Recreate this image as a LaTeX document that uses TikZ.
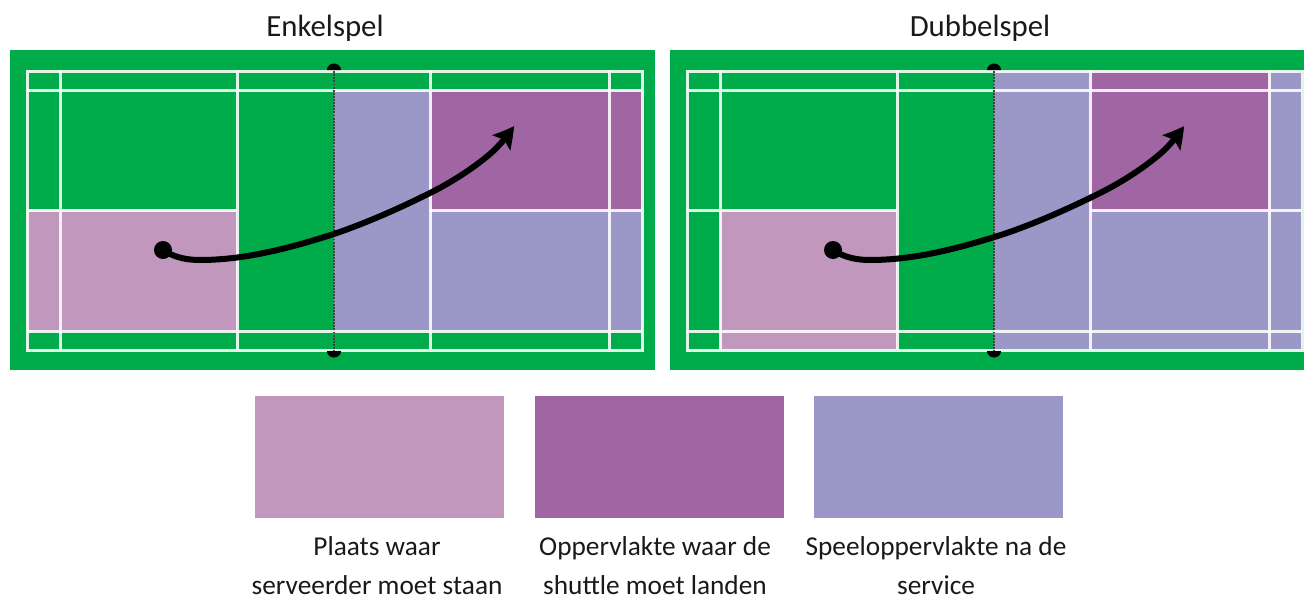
\documentclass[tikz,border=0pt]{standalone}
\usepackage{fontspec}
\setmainfont{Carlito}
\usetikzlibrary{arrows.meta,bending}
\definecolor{courtgreen}{HTML}{00AB4A}
\definecolor{servepink}{HTML}{C197BE}
\definecolor{landpurple}{HTML}{9F66A3}
\definecolor{playblue}{HTML}{9B97C7}
\tikzset{
  x=1pt,y=-1pt,
  courtline/.style={draw=white,line width=3pt,opacity=.88},
  netline/.style={draw=black!75,line width=1.9pt,dash pattern=on 1.9pt off 1.2pt},
  netcap/.style={fill=black,draw=none},
  flight/.style={draw=black,line width=6pt,-{Stealth[length=21pt,width=23pt,inset=4pt,bend]}},
  startdot/.style={circle,fill=black,inner sep=0pt,minimum size=18pt},
  legendbox/.style={inner sep=0pt,minimum width=249pt,minimum height=122pt},
  heading/.style={font=\fontsize{30.8}{36}\selectfont,text=black!90,inner sep=0pt},
  legendtext/.style={font=\fontsize{27.3}{39}\selectfont,align=center,text=black!90,inner sep=0pt}
}
% #1..#7 vertical lines (outer, side, service, net, service, side, outer)
\newcommand{\courtlines}[7]{%
  \draw[courtline] (#1,71) rectangle (#7,350);
  \foreach \yy in {90,331}{\draw[courtline] (#1,\yy) -- (#7,\yy);}
  \draw[courtline] (#1,210) -- (#3,210);
  \draw[courtline] (#5,210) -- (#7,210);
  \foreach \xx in {#2,#3,#5,#6}{\draw[courtline] (\xx,71) -- (\xx,350);}
  \draw[netline] (#4,68) -- (#4,352);
  \fill[netcap] (#4-7,70) arc[start angle=180,end angle=360,x radius=7,y radius=6.5] -- cycle;
  \fill[netcap] (#4-7,351) arc[start angle=180,end angle=0,x radius=7,y radius=6.5] -- cycle;
}
\begin{document}
\begin{tikzpicture}
\useasboundingbox (0,0) rectangle (1304,597);
% headings
\node[heading] (h1) at (325,28) {Enkelspel};
\node[heading] (h2) at (980,28) {Dubbelspel};
% left court
\fill[courtgreen] (10,50) rectangle (655,370);
\fill[servepink] (27,210) rectangle (237,331);
\fill[playblue] (334,90) rectangle (642,331);
\fill[landpurple] (430,90) rectangle (642,210);
\courtlines{27}{60}{237}{334}{430}{609}{642}
% right court
\fill[courtgreen] (670,50) rectangle (1304,370);
\fill[servepink] (720,210) rectangle (897,350);
\fill[playblue] (994,71) rectangle (1302,350);
\fill[landpurple] (1090,71) rectangle (1269,210);
\courtlines{687}{720}{897}{994}{1090}{1269}{1302}
% flights
\node[startdot] (d1) at (163,250) {};
\coordinate (t1) at (514,126);
\draw[flight] (d1.center) .. controls (175,258) and (188,260) .. (200,260) .. controls (245,260) and (290,248) .. (334,234) .. controls (366,223) and (398,209) .. (430,193) .. controls (450,183) and (471,170) .. (490,154) .. controls (498,147) and (507,137) .. (t1);
\node[startdot] (d2) at (833,250) {};
\coordinate (t2) at (1184,126);
\draw[flight] (d2.center) .. controls (845,258) and (858,260) .. (870,260) .. controls (915,260) and (960,248) .. (1004,234) .. controls (1036,223) and (1068,209) .. (1100,193) .. controls (1120,183) and (1141,170) .. (1160,154) .. controls (1168,147) and (1177,137) .. (t2);
% legend
\node[legendbox,fill=servepink] (l1) at (379.5,457) {};
\node[legendbox,fill=landpurple] (l2) at (659.5,457) {};
\node[legendbox,fill=playblue] (l3) at (938.5,457) {};
\node[legendtext,anchor=north] (t1a) at (377,536) {Plaats waar\\serveerder moet staan};
\node[legendtext,anchor=north] (t2a) at (655,536) {Oppervlakte waar de\\shuttle moet landen};
\node[legendtext,anchor=north] (t3a) at (936,536) {Speeloppervlakte na de\\service};
\end{tikzpicture}
\end{document}
